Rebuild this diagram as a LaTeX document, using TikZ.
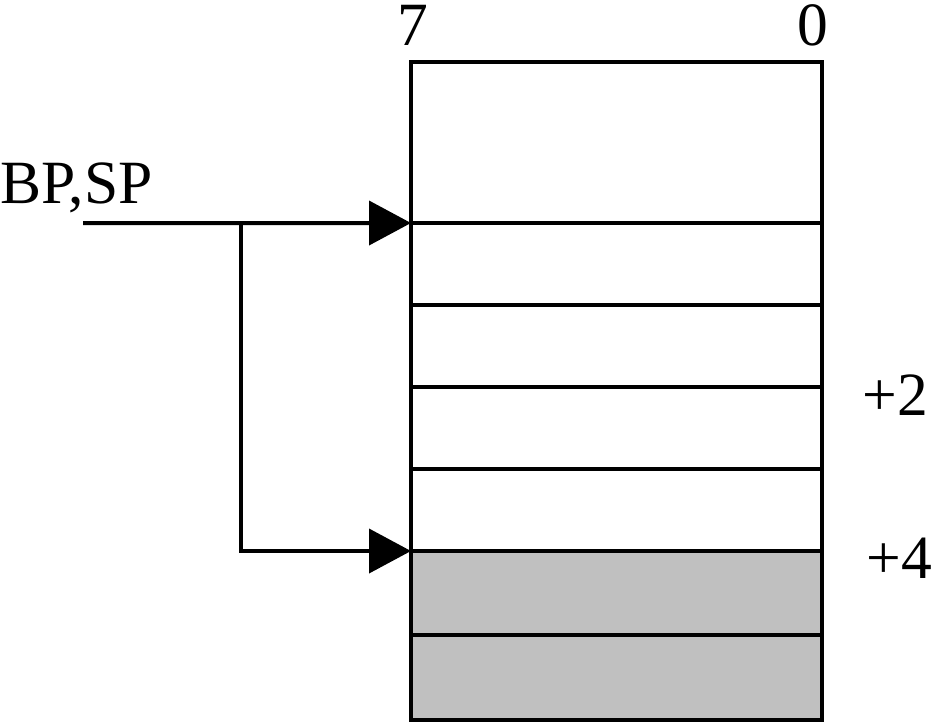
\documentclass[tikz,border=0pt]{standalone}
\usepackage{fontspec}
\setmainfont{Liberation Serif}
\usetikzlibrary{positioning,arrows.meta}
\definecolor{cellgray}{RGB}{192,192,192}

\begin{document}
\begin{tikzpicture}[
	cell/.style={draw,line width=0.08cm,minimum width=8.22cm,inner sep=0,outer sep=0},
	ptr/.style={line width=0.08cm,-{Triangle[length=0.84cm,width=0.88cm]}},
	lbl/.style={inner sep=0,font=\fontsize{35}{40}\selectfont}]
			\useasboundingbox (0,0) rectangle (18.64,-14.48);
			\node[cell,minimum height=3.22cm,anchor=north west] (c1) at (8.22,-1.24) {};
			\node[cell,minimum height=1.64cm,below=0cm of c1] (c2) {};
			\node[cell,minimum height=1.64cm,below=0cm of c2] (c3) {};
			\node[cell,minimum height=1.64cm,below=0cm of c3] (c4) {};
			\node[cell,minimum height=1.64cm,below=0cm of c4] (c5) {};
			\node[cell,fill=cellgray,minimum height=1.68cm,below=0cm of c5] (c6) {};
			\node[cell,fill=cellgray,minimum height=1.70cm,below=0cm of c6] (c7) {};
			\node[lbl,anchor=base] (hi) at (8.26,-0.9) {7};
			\node[lbl,anchor=base] (lo) at (16.26,-0.9) {0};
			\node[lbl,anchor=base west] (bpsp) at (0,-4.06) {BP,SP};
			\node[lbl,anchor=base west] (off2) at (17.24,-8.3) {+2};
			\node[lbl,anchor=base west] (off4) at (17.32,-11.56) {+4};
			\coordinate (src) at (1.66,-4.46);
			\coordinate (fork) at (4.82,-4.46);
			\draw[ptr] (src) -- (c2.north west);
			\draw[ptr] (fork) |- (c6.north west);
		\end{tikzpicture}
\end{document}
